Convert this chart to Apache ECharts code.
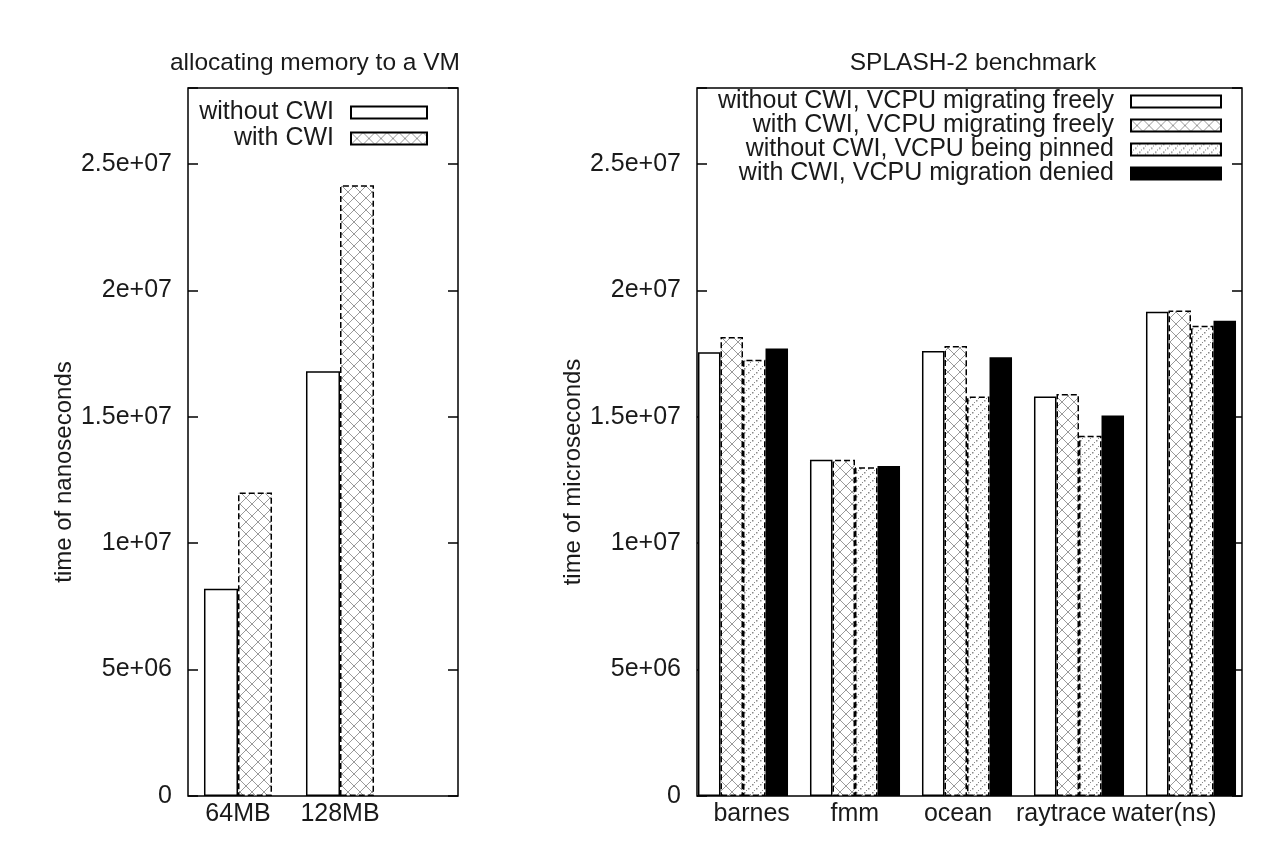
<!DOCTYPE html>
<html>
<head>
<meta charset="utf-8">
<script src="https://cdn.jsdelivr.net/npm/echarts@6/dist/echarts.min.js"></script>
<style>
    html, body { margin: 0; padding: 0; background: #fff; }
    #chart { width: 1269px; height: 847px; }
</style>
</head>
<body>
<div id="chart"></div>
<script>
// left panel: allocating memory to a VM
const memCategories = ['64MB', '128MB', '']
const memWithoutCwi = [8.2e6, 16.8e6]
const memWithCwi    = [12.0e6, 24.15e6]

// right panel: SPLASH-2 benchmark
const benchCategories = ['barnes', 'fmm', 'ocean', 'raytrace', 'water(ns)']
const freeNoCwi   = [17.55e6, 13.3e6, 17.6e6, 15.8e6, 19.15e6]
const freeCwi     = [18.15e6, 13.3e6, 17.8e6, 15.9e6, 19.2e6]
const pinnedNoCwi = [17.25e6, 13.0e6, 15.8e6, 14.25e6, 18.6e6]
const deniedCwi   = [17.7e6, 13.05e6, 17.35e6, 15.05e6, 18.8e6]

const yTickLabels = ['0', '5e+06', '1e+07', '1.5e+07', '2e+07', '2.5e+07']
const yStep = 5e6
const yMax  = 2.8e7

const FONT = 'Liberation Sans'
const FS   = 25
const INK  = '#1a1a1a'

// small canvas tiles used as bar fills
const makePattern = (size, draw) => {
    let c = document.createElement('canvas')
    c.width = size
    c.height = size
    let ctx = c.getContext('2d')
    ctx.fillStyle = '#fff'
    ctx.fillRect(0, 0, size, size)
    draw(ctx, size)
    return { image: c, repeat: 'repeat' }
}

const crossHatch = makePattern(12, (ctx, s) => {
    ctx.strokeStyle = '#9a9a9a'
    ctx.lineWidth = 1
    ctx.beginPath()
    ctx.moveTo(0, 0); ctx.lineTo(s, s)
    ctx.moveTo(s, 0); ctx.lineTo(0, s)
    ctx.stroke()
})

const dotted = makePattern(8, (ctx) => {
    ctx.fillStyle = '#8a8a8a'
    ctx.fillRect(0, 0, 1.5, 1.5)
    ctx.fillRect(4, 4, 1.5, 1.5)
    ctx.fillRect(2, 6, 1, 1)
    ctx.fillRect(6, 2, 1, 1)
})

const tickFmt = v => yTickLabels[Math.round(v / yStep)] || ''

// hidden value axis for the bars, same scale as the framed axis
const barY = (gridIndex) => ({ type: 'value', gridIndex, min: 0, max: yMax, show: false })

// framed axis with labels, ticks pointing inside
const frameY = (gridIndex, name) => ({
    type: 'value', gridIndex, min: 0, max: yMax, interval: yStep,
    name, nameLocation: 'middle', nameGap: 112, nameRotate: 90,
    nameTextStyle: { fontFamily: FONT, fontSize: 24, color: INK, padding: [0, 60, 0, 0] },
    axisLine: { show: false },
    axisTick: { show: true, inside: true, length: 10, lineStyle: { color: '#000', width: 1.5 } },
    axisLabel: { formatter: tickFmt, margin: 16, fontFamily: FONT, fontSize: FS, color: INK },
    splitLine: { show: false }
})

// mirror ticks on the right side of a frame
const mirrorY = (gridIndex) => ({
    type: 'value', gridIndex, position: 'right', min: 0, max: yMax, interval: yStep,
    axisLine: { show: false },
    axisTick: { show: true, inside: true, length: 10, lineStyle: { color: '#000', width: 1.5 } },
    axisLabel: { show: false },
    splitLine: { show: false }
})

const hiddenX = (gridIndex, data) => ({ type: 'category', gridIndex, data, show: false })

const labelX = (gridIndex, data) => ({
    type: 'category', gridIndex, data,
    axisLine: { show: false },
    axisTick: { show: false },
    axisLabel: { margin: 6, fontFamily: FONT, fontSize: FS, color: INK, interval: 0 }
})

const plainStyle  = { color: '#fff', borderColor: '#000', borderWidth: 1.5 }
const hatchStyle  = { color: crossHatch, borderColor: '#000', borderWidth: 1.5, borderType: 'dashed' }
const dottedStyle = { color: dotted, borderColor: '#000', borderWidth: 1.5, borderType: 'dashed' }
const solidStyle  = { color: '#000', borderColor: '#000', borderWidth: 1.5 }

const bar = (name, data, xAxisIndex, yAxisIndex, itemStyle, catGap) => ({
    type: 'bar', name, data, xAxisIndex, yAxisIndex, itemStyle,
    barGap: '0%', barCategoryGap: catGap, silent: true
})

const legendText = { fontFamily: FONT, fontSize: FS, color: INK, padding: [0, 12, 0, 0] }

let chart = echarts.init(document.getElementById('chart'), null, { renderer: 'canvas' })

let options = {
    animation: false,
    backgroundColor: '#fff',
    title: [
        { text: 'allocating memory to a VM', left: 310, top: 46, textAlign: 'center',
          textStyle: { fontFamily: FONT, fontSize: 24.5, fontWeight: 'normal', color: INK } },
        { text: 'SPLASH-2 benchmark', left: 968, top: 46, textAlign: 'center',
          textStyle: { fontFamily: FONT, fontSize: 24.5, fontWeight: 'normal', color: INK } }
    ],
    legend: [
        {
            data: ['without CWI', 'with CWI'],
            orient: 'vertical', align: 'right', right: 841, top: 100,
            icon: 'rect', itemWidth: 76, itemHeight: 12, itemGap: 1, padding: 0,
            textStyle: legendText
        },
        {
            data: ['without CWI, VCPU migrating freely', 'with CWI, VCPU migrating freely',
                   'without CWI, VCPU being pinned', 'with CWI, VCPU migration denied'],
            orient: 'vertical', align: 'right', right: 47, top: 89,
            icon: 'rect', itemWidth: 90, itemHeight: 12, itemGap: -1, padding: 0,
            textStyle: legendText
        }
    ],
    grid: [
        // 0: left bars (3 bands of 102px)
        { left: 187, width: 306, top: 88, height: 708, show: false },
        // 1: left frame
        { left: 188, width: 270, top: 88, height: 708, show: true, borderColor: '#000', borderWidth: 1.5, backgroundColor: 'transparent' },
        // 2: right bars
        { left: 687, width: 560, top: 88, height: 708, show: false },
        // 3: right frame
        { left: 697, width: 545, top: 88, height: 708, show: true, borderColor: '#000', borderWidth: 1.5, backgroundColor: 'transparent' },
        // 4: right category labels
        { left: 700, width: 516, top: 88, height: 708, show: false }
    ],
    xAxis: [
        labelX(0, memCategories),
        hiddenX(1, ['']),
        hiddenX(2, benchCategories),
        hiddenX(3, ['']),
        labelX(4, benchCategories)
    ],
    yAxis: [
        barY(0),
        frameY(1, 'time of nanoseconds'),
        mirrorY(1),
        barY(2),
        frameY(3, 'time of microseconds'),
        mirrorY(3),
        barY(4)
    ],
    series: [
        bar('without CWI', memWithoutCwi, 0, 0, plainStyle, '33.3%'),
        bar('with CWI', memWithCwi, 0, 0, hatchStyle, '33.3%'),
        bar('without CWI, VCPU migrating freely', freeNoCwi, 2, 3, plainStyle, '19.6%'),
        bar('with CWI, VCPU migrating freely', freeCwi, 2, 3, hatchStyle, '19.6%'),
        bar('without CWI, VCPU being pinned', pinnedNoCwi, 2, 3, dottedStyle, '19.6%'),
        bar('with CWI, VCPU migration denied', deniedCwi, 2, 3, solidStyle, '19.6%')
    ]
}

chart.setOption(options)
</script>
</body>
</html>
